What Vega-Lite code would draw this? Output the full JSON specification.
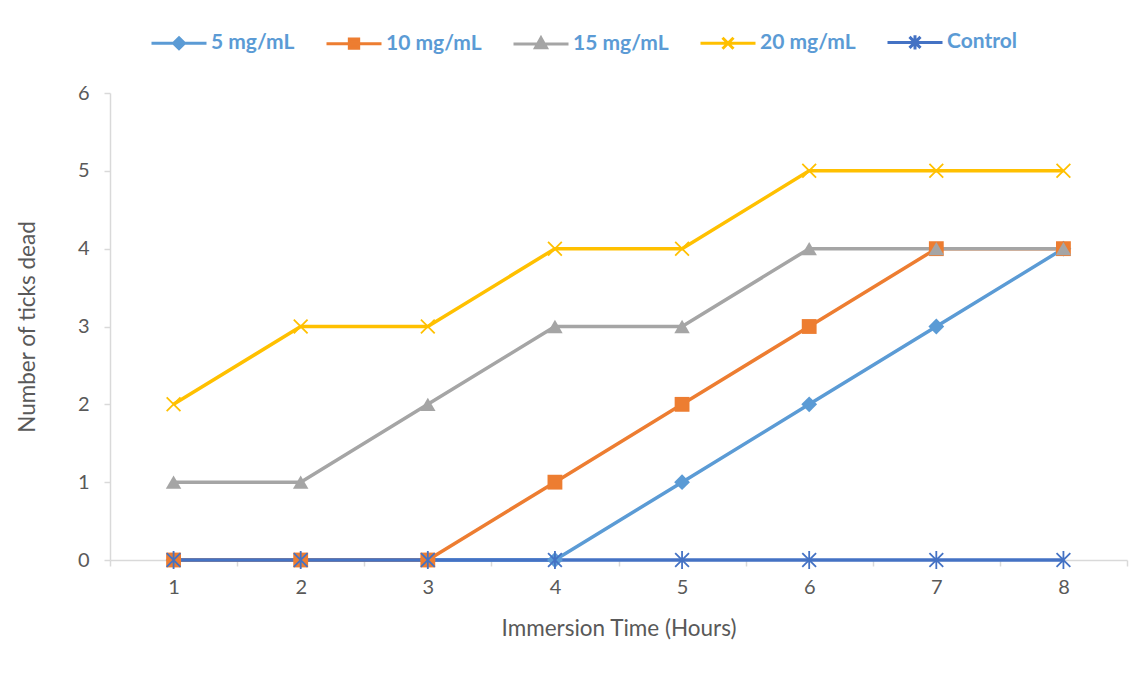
{
  "$schema": "https://vega.github.io/schema/vega-lite/v6.json",
  "width": 1017,
  "height": 467,
  "autosize": {"type": "none"},
  "padding": {"left": 110, "top": 93, "right": 20, "bottom": 113},
  "background": "white",
  "config": {
    "view": {"stroke": null},
    "legend": {
      "orient": "none",
      "legendX": 40,
      "legendY": -80,
      "direction": "horizontal",
      "columns": 5,
      "padding": 0,
      "symbolSize": 3025,
      "symbolStrokeWidth": 3,
      "labelOffset": 3,
      "columnPadding": 25,
      "labelFont": "Lato",
      "labelFontWeight": "bold",
      "labelFontSize": 21,
      "labelColor": "#5B9BD5"
    }
  },
  "data": {
    "values": [
      {"hour": 1, "series": "5 mg/mL", "dead": 0},
      {"hour": 2, "series": "5 mg/mL", "dead": 0},
      {"hour": 3, "series": "5 mg/mL", "dead": 0},
      {"hour": 4, "series": "5 mg/mL", "dead": 0},
      {"hour": 5, "series": "5 mg/mL", "dead": 1},
      {"hour": 6, "series": "5 mg/mL", "dead": 2},
      {"hour": 7, "series": "5 mg/mL", "dead": 3},
      {"hour": 8, "series": "5 mg/mL", "dead": 4},
      {"hour": 1, "series": "10 mg/mL", "dead": 0},
      {"hour": 2, "series": "10 mg/mL", "dead": 0},
      {"hour": 3, "series": "10 mg/mL", "dead": 0},
      {"hour": 4, "series": "10 mg/mL", "dead": 1},
      {"hour": 5, "series": "10 mg/mL", "dead": 2},
      {"hour": 6, "series": "10 mg/mL", "dead": 3},
      {"hour": 7, "series": "10 mg/mL", "dead": 4},
      {"hour": 8, "series": "10 mg/mL", "dead": 4},
      {"hour": 1, "series": "15 mg/mL", "dead": 1},
      {"hour": 2, "series": "15 mg/mL", "dead": 1},
      {"hour": 3, "series": "15 mg/mL", "dead": 2},
      {"hour": 4, "series": "15 mg/mL", "dead": 3},
      {"hour": 5, "series": "15 mg/mL", "dead": 3},
      {"hour": 6, "series": "15 mg/mL", "dead": 4},
      {"hour": 7, "series": "15 mg/mL", "dead": 4},
      {"hour": 8, "series": "15 mg/mL", "dead": 4},
      {"hour": 1, "series": "20 mg/mL", "dead": 2},
      {"hour": 2, "series": "20 mg/mL", "dead": 3},
      {"hour": 3, "series": "20 mg/mL", "dead": 3},
      {"hour": 4, "series": "20 mg/mL", "dead": 4},
      {"hour": 5, "series": "20 mg/mL", "dead": 4},
      {"hour": 6, "series": "20 mg/mL", "dead": 5},
      {"hour": 7, "series": "20 mg/mL", "dead": 5},
      {"hour": 8, "series": "20 mg/mL", "dead": 5},
      {"hour": 1, "series": "Control", "dead": 0},
      {"hour": 2, "series": "Control", "dead": 0},
      {"hour": 3, "series": "Control", "dead": 0},
      {"hour": 4, "series": "Control", "dead": 0},
      {"hour": 5, "series": "Control", "dead": 0},
      {"hour": 6, "series": "Control", "dead": 0},
      {"hour": 7, "series": "Control", "dead": 0},
      {"hour": 8, "series": "Control", "dead": 0}
    ]
  },
  "encoding": {
    "x": {
      "field": "hour",
      "type": "ordinal",
      "bandPosition": 0.5,
      "scale": {"type": "band", "paddingInner": 0, "paddingOuter": 0},
      "title": "Immersion Time (Hours)",
      "axis": {
        "labelAngle": 0,
        "tickBand": "extent",
        "grid": false,
        "domainColor": "#D9D9D9",
        "domainWidth": 1.5,
        "tickColor": "#D9D9D9",
        "tickWidth": 1.5,
        "tickSize": 6,
        "labelFont": "Lato",
        "labelFontSize": 20,
        "labelColor": "#595959",
        "labelPadding": 11,
        "titleFont": "Lato",
        "titleFontSize": 22.5,
        "titleFontWeight": "normal",
        "titleColor": "#595959",
        "titlePadding": 20
      }
    },
    "y": {
      "field": "dead",
      "type": "quantitative",
      "scale": {"domain": [0, 6]},
      "title": "Number of ticks dead",
      "axis": {
        "values": [0, 1, 2, 3, 4, 5, 6],
        "grid": false,
        "domainColor": "#D9D9D9",
        "domainWidth": 1.5,
        "tickColor": "#D9D9D9",
        "tickWidth": 1.5,
        "tickSize": 6,
        "labelFont": "Lato",
        "labelFontSize": 20,
        "labelColor": "#595959",
        "labelPadding": 15,
        "titleFont": "Lato",
        "titleFontSize": 22.5,
        "titleFontWeight": "normal",
        "titleColor": "#595959",
        "titlePadding": 38
      }
    },
    "color": {
      "field": "series",
      "type": "nominal",
      "title": null,
      "scale": {
        "domain": ["5 mg/mL", "10 mg/mL", "15 mg/mL", "20 mg/mL", "Control"],
        "range": ["#5B9BD5", "#ED7D31", "#A5A5A5", "#FFC000", "#4472C4"]
      }
    }
  },
  "layer": [
    {
      "mark": {"type": "line", "strokeWidth": 3.5}
    },
    {
      "transform": [{"filter": {"field": "series", "equal": "5 mg/mL"}}],
      "mark": {"type": "point", "shape": "diamond", "filled": true, "opacity": 1, "size": 250}
    },
    {
      "transform": [{"filter": {"field": "series", "equal": "10 mg/mL"}}],
      "mark": {"type": "point", "shape": "square", "filled": true, "opacity": 1, "size": 220}
    },
    {
      "transform": [{"filter": {"field": "series", "equal": "15 mg/mL"}}],
      "mark": {"type": "point", "shape": "triangle-up", "filled": true, "opacity": 1, "size": 240}
    },
    {
      "transform": [{"filter": {"field": "series", "equal": "20 mg/mL"}}],
      "mark": {"type": "point", "shape": "M-1,-1L1,1M-1,1L1,-1", "filled": false, "opacity": 1, "size": 190, "strokeWidth": 1.8}
    },
    {
      "transform": [{"filter": {"field": "series", "equal": "Control"}}],
      "mark": {"type": "point", "shape": "M-1,-1L1,1M-1,1L1,-1M0,-1.3L0,1.3", "filled": false, "opacity": 1, "size": 190, "strokeWidth": 1.8}
    },
    {
      "transform": [{"filter": "false"}],
      "mark": {"type": "point", "filled": true, "opacity": 1},
      "encoding": {
        "shape": {
          "field": "series",
          "type": "nominal",
          "title": null,
          "scale": {
            "domain": ["5 mg/mL", "10 mg/mL", "15 mg/mL", "20 mg/mL", "Control"],
            "range": [
              "M-1,0L1,0M0,-0.2L0.2,0L0,0.2L-0.2,0Z",
              "M-1,0L1,0M-0.17,-0.17L0.17,-0.17L0.17,0.17L-0.17,0.17Z",
              "M-1,0L1,0M0,-0.22L0.2,0.14L-0.2,0.14Z",
              "M-1,0L1,0M-0.2,-0.2L0.2,0.2M-0.2,0.2L0.2,-0.2",
              "M-1,0L1,0M-0.2,-0.2L0.2,0.2M-0.2,0.2L0.2,-0.2M0,-0.26L0,0.26"
            ]
          }
        }
      }
    },
    {
      "transform": [{"filter": "false"}],
      "mark": {"type": "point", "filled": false, "opacity": 1},
      "encoding": {
        "shape": {
          "field": "series",
          "type": "nominal",
          "title": null
        }
      }
    }
  ]
}
